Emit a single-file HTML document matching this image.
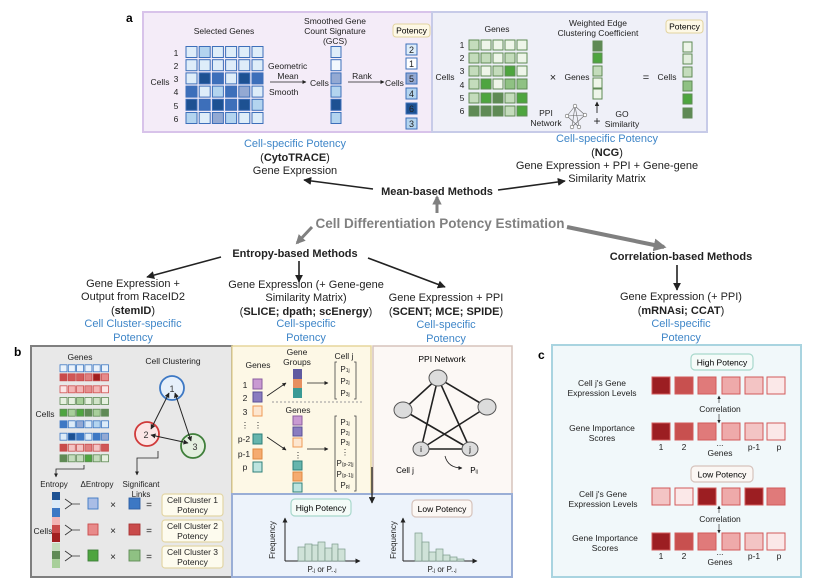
<!DOCTYPE html>
<html><head><meta charset="utf-8"><style>
html,body{margin:0;padding:0;background:#fff}
svg{display:block}
text{font-family:"Liberation Sans",sans-serif}
</style></head><body>
<svg width="831" height="588" viewBox="0 0 831 588" xmlns="http://www.w3.org/2000/svg">
<defs>
<marker id="ab" viewBox="0 0 10 10" refX="9" refY="5" markerWidth="5" markerHeight="5" orient="auto-start-reverse"><path d="M0,0L10,5L0,10z" fill="#222"/></marker>
<marker id="ag" viewBox="0 0 10 10" refX="8" refY="5" markerWidth="3.2" markerHeight="3.2" orient="auto"><path d="M0,0L10,5L0,10z" fill="#808080"/></marker>
</defs>

<!-- ===== panel a ===== -->
<text x="126" y="22" font-size="12" font-weight="bold">a</text>
<rect x="143" y="12" width="289" height="120" fill="#f4ecf8" stroke="#d8c3ea" stroke-width="2"/>
<rect x="432" y="12" width="275" height="120" fill="#eff0f8" stroke="#c7cbe8" stroke-width="2"/>

<g font-size="8.5" fill="#222">
<text x="224" y="34" text-anchor="middle">Selected Genes</text>
<text x="335" y="24" text-anchor="middle">Smoothed Gene</text>
<text x="335" y="34" text-anchor="middle">Count Signature</text>
<text x="335" y="44" text-anchor="middle">(GCS)</text>
<text x="160" y="85" text-anchor="middle">Cells</text>
<g text-anchor="middle"><text x="176" y="56">1</text><text x="176" y="69">2</text><text x="176" y="82">3</text><text x="176" y="95">4</text><text x="176" y="109">5</text><text x="176" y="122">6</text></g>
<text x="268" y="69">Geometric</text>
<text x="288" y="79" text-anchor="middle">Mean</text>
<text x="269" y="95">Smooth</text>
<text x="310" y="86">Cells</text>
<text x="362" y="79" text-anchor="middle">Rank</text>
<text x="385" y="86">Cells</text>
</g>
<line x1="270" y1="82" x2="306" y2="82" stroke="#222" stroke-width="0.8" marker-end="url(#ab)"/>
<line x1="348" y1="82" x2="384" y2="82" stroke="#222" stroke-width="0.8" marker-end="url(#ab)"/>

<g stroke="#3d6fba" stroke-width="1">
<rect x="186" y="46.5" width="11" height="11" fill="#deedf9"/><rect x="199.2" y="46.5" width="11" height="11" fill="#b3d4ef"/><rect x="212.4" y="46.5" width="11" height="11" fill="#deedf9"/><rect x="225.6" y="46.5" width="11" height="11" fill="#deedf9"/><rect x="238.8" y="46.5" width="11" height="11" fill="#deedf9"/><rect x="252" y="46.5" width="11" height="11" fill="#deedf9"/>
<rect x="186" y="59.7" width="11" height="11" fill="#deedf9"/><rect x="199.2" y="59.7" width="11" height="11" fill="#deedf9"/><rect x="212.4" y="59.7" width="11" height="11" fill="#deedf9"/><rect x="225.6" y="59.7" width="11" height="11" fill="#deedf9"/><rect x="238.8" y="59.7" width="11" height="11" fill="#deedf9"/><rect x="252" y="59.7" width="11" height="11" fill="#deedf9"/>
<rect x="186" y="72.9" width="11" height="11" fill="#deedf9"/><rect x="199.2" y="72.9" width="11" height="11" fill="#1d5192"/><rect x="212.4" y="72.9" width="11" height="11" fill="#3d6fba"/><rect x="225.6" y="72.9" width="11" height="11" fill="#deedf9"/><rect x="238.8" y="72.9" width="11" height="11" fill="#1d5192"/><rect x="252" y="72.9" width="11" height="11" fill="#3d6fba"/>
<rect x="186" y="86.1" width="11" height="11" fill="#3d6fba"/><rect x="199.2" y="86.1" width="11" height="11" fill="#deedf9"/><rect x="212.4" y="86.1" width="11" height="11" fill="#b3d4ef"/><rect x="225.6" y="86.1" width="11" height="11" fill="#3d6fba"/><rect x="238.8" y="86.1" width="11" height="11" fill="#93a9d3"/><rect x="252" y="86.1" width="11" height="11" fill="#deedf9"/>
<rect x="186" y="99.3" width="11" height="11" fill="#1d5192"/><rect x="199.2" y="99.3" width="11" height="11" fill="#3d6fba"/><rect x="212.4" y="99.3" width="11" height="11" fill="#1d5192"/><rect x="225.6" y="99.3" width="11" height="11" fill="#3d6fba"/><rect x="238.8" y="99.3" width="11" height="11" fill="#1d5192"/><rect x="252" y="99.3" width="11" height="11" fill="#b3d4ef"/>
<rect x="186" y="112.5" width="11" height="11" fill="#b3d4ef"/><rect x="199.2" y="112.5" width="11" height="11" fill="#deedf9"/><rect x="212.4" y="112.5" width="11" height="11" fill="#93a9d3"/><rect x="225.6" y="112.5" width="11" height="11" fill="#b3d4ef"/><rect x="238.8" y="112.5" width="11" height="11" fill="#deedf9"/><rect x="252" y="112.5" width="11" height="11" fill="#deedf9"/>
<rect x="331" y="46.5" width="10" height="11" fill="#deedf9"/><rect x="331" y="59.7" width="10" height="11" fill="#f2f8fd"/><rect x="331" y="72.9" width="10" height="11" fill="#93a9d3"/><rect x="331" y="86.1" width="10" height="11" fill="#b3d4ef"/><rect x="331" y="99.3" width="10" height="11" fill="#1d5192"/><rect x="331" y="112.5" width="10" height="11" fill="#b3d4ef"/>
<rect x="406" y="44" width="11" height="11" fill="#deedf9"/><rect x="406" y="58" width="11" height="11" fill="#fff"/><rect x="406" y="73" width="11" height="11" fill="#93a9d3"/><rect x="406" y="88" width="11" height="11" fill="#b3d4ef"/><rect x="406" y="103" width="11" height="11" fill="#1d5192"/><rect x="406" y="118" width="11" height="11" fill="#b3d4ef"/>
</g>
<g font-size="9" text-anchor="middle" fill="#222"><text x="411.5" y="53">2</text><text x="411.5" y="67">1</text><text x="411.5" y="82">5</text><text x="411.5" y="97">4</text><text x="411.5" y="112">6</text><text x="411.5" y="127">3</text></g>
<rect x="393" y="24" width="37" height="13" rx="3" fill="#fdf8e6" stroke="#e2d3a0"/>
<text x="411.5" y="33.5" font-size="8.5" text-anchor="middle">Potency</text>

<g font-size="8.5" fill="#222">
<text x="497" y="32" text-anchor="middle">Genes</text>
<text x="598" y="26" text-anchor="middle">Weighted Edge</text>
<text x="598" y="36" text-anchor="middle">Clustering Coefficient</text>
<text x="445" y="80" text-anchor="middle">Cells</text>
<g text-anchor="middle"><text x="462" y="48">1</text><text x="462" y="61">2</text><text x="462" y="74">3</text><text x="462" y="88">4</text><text x="462" y="101">5</text><text x="462" y="114">6</text></g>
<text x="553" y="81" text-anchor="middle" font-size="11">×</text>
<text x="577" y="80" text-anchor="middle">Genes</text>
<text x="646" y="81" text-anchor="middle" font-size="11">=</text>
<text x="667" y="80" text-anchor="middle">Cells</text>
<text x="546" y="116" text-anchor="middle">PPI</text>
<text x="546" y="126" text-anchor="middle">Network</text>
<text x="622" y="117" text-anchor="middle">GO</text>
<text x="622" y="127" text-anchor="middle">Similarity</text>
<text x="597" y="125" text-anchor="middle" font-size="12">+</text>
</g>
<line x1="597" y1="113" x2="597" y2="102" stroke="#222" stroke-width="0.9" marker-end="url(#ab)"/>
<g stroke="#666" stroke-width="0.6" fill="#fff">
<line x1="575" y1="106" x2="567" y2="116"/><line x1="575" y1="106" x2="585" y2="115"/><line x1="567" y1="116" x2="579" y2="127"/><line x1="585" y1="115" x2="572" y2="127"/><line x1="575" y1="106" x2="572" y2="127"/><line x1="575" y1="106" x2="579" y2="127"/><line x1="567" y1="116" x2="585" y2="115"/>
<circle cx="575" cy="106" r="1.8"/><circle cx="567" cy="116" r="1.8"/><circle cx="585" cy="115" r="1.8"/><circle cx="572" cy="127" r="1.8"/><circle cx="579" cy="127" r="1.8"/>
</g>
<g stroke="#5f8a55" stroke-width="1">
<rect x="469" y="40" width="10" height="10" fill="#c4dcbc"/><rect x="481" y="40" width="10" height="10" fill="#eef5e9"/><rect x="493" y="40" width="10" height="10" fill="#eef5e9"/><rect x="505" y="40" width="10" height="10" fill="#eef5e9"/><rect x="517" y="40" width="10" height="10" fill="#eef5e9"/>
<rect x="469" y="53" width="10" height="10" fill="#c4dcbc"/><rect x="481" y="53" width="10" height="10" fill="#c4dcbc"/><rect x="493" y="53" width="10" height="10" fill="#eef5e9"/><rect x="505" y="53" width="10" height="10" fill="#c4dcbc"/><rect x="517" y="53" width="10" height="10" fill="#eef5e9"/>
<rect x="469" y="66" width="10" height="10" fill="#c4dcbc"/><rect x="481" y="66" width="10" height="10" fill="#eef5e9"/><rect x="493" y="66" width="10" height="10" fill="#c4dcbc"/><rect x="505" y="66" width="10" height="10" fill="#4ea53f"/><rect x="517" y="66" width="10" height="10" fill="#eef5e9"/>
<rect x="469" y="79" width="10" height="10" fill="#c4dcbc"/><rect x="481" y="79" width="10" height="10" fill="#4ea53f"/><rect x="493" y="79" width="10" height="10" fill="#eef5e9"/><rect x="505" y="79" width="10" height="10" fill="#8fc183"/><rect x="517" y="79" width="10" height="10" fill="#8fc183"/>
<rect x="469" y="93" width="10" height="10" fill="#c4dcbc"/><rect x="481" y="93" width="10" height="10" fill="#4ea53f"/><rect x="493" y="93" width="10" height="10" fill="#5f8a55"/><rect x="505" y="93" width="10" height="10" fill="#c4dcbc"/><rect x="517" y="93" width="10" height="10" fill="#4ea53f"/>
<rect x="469" y="106" width="10" height="10" fill="#5f8a55"/><rect x="481" y="106" width="10" height="10" fill="#5f8a55"/><rect x="493" y="106" width="10" height="10" fill="#5f8a55"/><rect x="505" y="106" width="10" height="10" fill="#c4dcbc"/><rect x="517" y="106" width="10" height="10" fill="#4ea53f"/>
<rect x="593" y="41" width="9" height="10" fill="#5f8a55"/><rect x="593" y="53" width="9" height="10" fill="#4ea53f"/><rect x="593" y="66" width="9" height="10" fill="#c4dcbc"/><rect x="593" y="78" width="9" height="10" fill="#eef5e9"/><rect x="593" y="89" width="9" height="10" fill="#eef5e9"/>
<rect x="683" y="42" width="9" height="10" fill="#eef5e9"/><rect x="683" y="54" width="9" height="10" fill="#e2eedd"/><rect x="683" y="67" width="9" height="10" fill="#c4dcbc"/><rect x="683" y="81" width="9" height="10" fill="#8fc183"/><rect x="683" y="94" width="9" height="10" fill="#4ea53f"/><rect x="683" y="108" width="9" height="10" fill="#5f8a55"/>
</g>
<rect x="666" y="20" width="37" height="13" rx="3" fill="#fdf8e6" stroke="#e2d3a0"/>
<text x="684.5" y="29.5" font-size="8.5" text-anchor="middle">Potency</text>

<!-- ===== middle tree ===== -->
<g font-size="11" text-anchor="middle" fill="#222">
<text x="295" y="147" fill="#3f86c8">Cell-specific Potency</text>
<text x="295" y="161">(<tspan font-weight="bold">CytoTRACE</tspan>)</text>
<text x="295" y="174">Gene Expression</text>
<text x="607" y="142" fill="#3f86c8">Cell-specific Potency</text>
<text x="607" y="156">(<tspan font-weight="bold">NCG</tspan>)</text>
<text x="607" y="169">Gene Expression + PPI + Gene-gene</text>
<text x="607" y="182">Similarity Matrix</text>
<text x="437" y="195" font-weight="bold">Mean-based Methods</text>
<text x="440" y="228" font-size="13.5" font-weight="bold" fill="#808080">Cell Differentiation Potency Estimation</text>
<text x="295" y="257" font-weight="bold">Entropy-based Methods</text>
<text x="681" y="260" font-weight="bold">Correlation-based Methods</text>

<text x="133" y="287">Gene Expression +</text>
<text x="133" y="300">Output from RaceID2</text>
<text x="133" y="314">(<tspan font-weight="bold">stemID</tspan>)</text>
<text x="133" y="327" fill="#3f86c8">Cell Cluster-specific</text>
<text x="133" y="341" fill="#3f86c8">Potency</text>

<text x="306" y="288">Gene Expression (+ Gene-gene</text>
<text x="306" y="301">Similarity Matrix)</text>
<text x="306" y="315">(<tspan font-weight="bold">SLICE; dpath; scEnergy</tspan>)</text>
<text x="306" y="327" fill="#3f86c8">Cell-specific</text>
<text x="306" y="341" fill="#3f86c8">Potency</text>

<text x="446" y="301">Gene Expression + PPI</text>
<text x="446" y="315">(<tspan font-weight="bold">SCENT; MCE; SPIDE</tspan>)</text>
<text x="446" y="328" fill="#3f86c8">Cell-specific</text>
<text x="446" y="342" fill="#3f86c8">Potency</text>

<text x="681" y="300">Gene Expression (+ PPI)</text>
<text x="681" y="314">(<tspan font-weight="bold">mRNAsi; CCAT</tspan>)</text>
<text x="681" y="327" fill="#3f86c8">Cell-specific</text>
<text x="681" y="341" fill="#3f86c8">Potency</text>
</g>
<g stroke="#222" stroke-width="1.6" fill="none" marker-end="url(#ab)">
<line x1="373" y1="189" x2="304" y2="180"/>
<line x1="498" y1="190" x2="565" y2="181"/>
<line x1="221" y1="257" x2="147" y2="277"/>
<line x1="299" y1="261" x2="299" y2="282"/>
<line x1="368" y1="258" x2="445" y2="287"/>
<line x1="677" y1="265" x2="677" y2="290"/>
</g>
<g stroke="#808080" fill="none">
<line x1="437" y1="213" x2="437" y2="197" stroke-width="3" marker-end="url(#ag)"/>
<line x1="312" y1="227" x2="297" y2="243" stroke-width="3" marker-end="url(#ag)"/>
<line x1="567" y1="227" x2="664" y2="247" stroke-width="4" marker-end="url(#ag)"/>
</g>

<!-- ===== panel b ===== -->
<text x="14" y="356" font-size="12" font-weight="bold">b</text>
<rect x="31" y="346" width="201" height="231" fill="#e8e8e8" stroke="#7f7f7f" stroke-width="2"/>
<g font-size="8.5" fill="#222" text-anchor="middle">
<text x="80" y="360">Genes</text>
<text x="173" y="364">Cell Clustering</text>
<text x="45" y="417">Cells</text>
<text x="54" y="487" font-size="8">Entropy</text>
<text x="97" y="487" font-size="8">ΔEntropy</text>
<text x="141" y="487" font-size="8">Significant</text>
<text x="141" y="497" font-size="8">Links</text>
<text x="43" y="534">Cells</text>
<text x="113" y="508" font-size="10">×</text><text x="113" y="534" font-size="10">×</text><text x="113" y="560" font-size="10">×</text>
<text x="149" y="508" font-size="10">=</text><text x="149" y="534" font-size="10">=</text><text x="149" y="560" font-size="10">=</text>
</g>
<g stroke-width="0.8">
<g stroke="#3d78c4"><rect x="60" y="364.8" width="7" height="7" fill="#eaf2fb"/><rect x="68.3" y="364.8" width="7" height="7" fill="#eaf2fb"/><rect x="76.6" y="364.8" width="7" height="7" fill="#eaf2fb"/><rect x="84.9" y="364.8" width="7" height="7" fill="#eaf2fb"/><rect x="93.2" y="364.8" width="7" height="7" fill="#eaf2fb"/><rect x="101.5" y="364.8" width="7" height="7" fill="#eaf2fb"/></g>
<g stroke="#c94b4b"><rect x="60" y="373.8" width="7" height="7" fill="#c94b4b"/><rect x="68.3" y="373.8" width="7" height="7" fill="#d05757"/><rect x="76.6" y="373.8" width="7" height="7" fill="#d35c5c"/><rect x="84.9" y="373.8" width="7" height="7" fill="#e08080"/><rect x="93.2" y="373.8" width="7" height="7" fill="#a11f1f"/><rect x="101.5" y="373.8" width="7" height="7" fill="#e68a8a"/></g>
<g stroke="#d05050"><rect x="60" y="385.8" width="7" height="7" fill="#fbe5e5"/><rect x="68.3" y="385.8" width="7" height="7" fill="#f3b5b5"/><rect x="76.6" y="385.8" width="7" height="7" fill="#f3b5b5"/><rect x="84.9" y="385.8" width="7" height="7" fill="#e69090"/><rect x="93.2" y="385.8" width="7" height="7" fill="#f3b5b5"/><rect x="101.5" y="385.8" width="7" height="7" fill="#fbe5e5"/></g>
<g stroke="#5f8a55"><rect x="60" y="397.5" width="7" height="7" fill="#e6f0e0"/><rect x="68.3" y="397.5" width="7" height="7" fill="#e6f0e0"/><rect x="76.6" y="397.5" width="7" height="7" fill="#a8cf9a"/><rect x="84.9" y="397.5" width="7" height="7" fill="#e6f0e0"/><rect x="93.2" y="397.5" width="7" height="7" fill="#d0e3c8"/><rect x="101.5" y="397.5" width="7" height="7" fill="#e6f0e0"/></g>
<g stroke="#5f8a55"><rect x="60" y="409.2" width="7" height="7" fill="#4ea53f"/><rect x="68.3" y="409.2" width="7" height="7" fill="#a8cf9a"/><rect x="76.6" y="409.2" width="7" height="7" fill="#4ea53f"/><rect x="84.9" y="409.2" width="7" height="7" fill="#5f8a55"/><rect x="93.2" y="409.2" width="7" height="7" fill="#a8cf9a"/><rect x="101.5" y="409.2" width="7" height="7" fill="#5f8a55"/></g>
<g stroke="#3d78c4"><rect x="60" y="420.8" width="7" height="7" fill="#3d78c4"/><rect x="68.3" y="420.8" width="7" height="7" fill="#dcebf8"/><rect x="76.6" y="420.8" width="7" height="7" fill="#93a9d3"/><rect x="84.9" y="420.8" width="7" height="7" fill="#dcebf8"/><rect x="93.2" y="420.8" width="7" height="7" fill="#b3d4ef"/><rect x="101.5" y="420.8" width="7" height="7" fill="#dcebf8"/></g>
<g stroke="#3d78c4"><rect x="60" y="433.2" width="7" height="7" fill="#dcebf8"/><rect x="68.3" y="433.2" width="7" height="7" fill="#1d5192"/><rect x="76.6" y="433.2" width="7" height="7" fill="#3d78c4"/><rect x="84.9" y="433.2" width="7" height="7" fill="#dcebf8"/><rect x="93.2" y="433.2" width="7" height="7" fill="#3d78c4"/><rect x="101.5" y="433.2" width="7" height="7" fill="#93a9d3"/></g>
<g stroke="#c94b4b"><rect x="60" y="444.2" width="7" height="7" fill="#c94b4b"/><rect x="68.3" y="444.2" width="7" height="7" fill="#f3c4c4"/><rect x="76.6" y="444.2" width="7" height="7" fill="#f3c4c4"/><rect x="84.9" y="444.2" width="7" height="7" fill="#e08080"/><rect x="93.2" y="444.2" width="7" height="7" fill="#f3c4c4"/><rect x="101.5" y="444.2" width="7" height="7" fill="#d05757"/></g>
<g stroke="#5f8a55"><rect x="60" y="454.8" width="7" height="7" fill="#5f8a55"/><rect x="68.3" y="454.8" width="7" height="7" fill="#c4dcbc"/><rect x="76.6" y="454.8" width="7" height="7" fill="#c4dcbc"/><rect x="84.9" y="454.8" width="7" height="7" fill="#4ea53f"/><rect x="93.2" y="454.8" width="7" height="7" fill="#c4dcbc"/><rect x="101.5" y="454.8" width="7" height="7" fill="#e6f0e0"/></g>
</g>
<g stroke-width="1.8">
<circle cx="172" cy="388" r="12" fill="#e6effa" stroke="#3d78c4"/>
<circle cx="147" cy="434" r="12" fill="#fbe6e6" stroke="#d03a3a"/>
<circle cx="193" cy="446" r="12" fill="#e3efdf" stroke="#3f7f3a"/>
</g>
<g font-size="9" text-anchor="middle" fill="#333"><text x="172" y="392">1</text><text x="146" y="438">2</text><text x="195" y="450">3</text></g>
<g stroke="#222" stroke-width="1" marker-end="url(#ab)" marker-start="url(#ab)">
<line x1="169" y1="393" x2="151" y2="429"/>
<line x1="175" y1="393" x2="191" y2="441"/>
<line x1="151" y1="435" x2="188" y2="443"/>
</g>
<g stroke="#222" stroke-width="0.8" fill="none" marker-end="url(#ab)">
<path d="M84,465 V469 H56 V477"/>
<path d="M158,451 V458 H137 V475"/>
</g>
<g stroke="none">
<rect x="52" y="492" width="8" height="8" fill="#1d5192"/><rect x="52" y="500" width="8" height="8" fill="#dcebf8"/><rect x="52" y="508" width="8" height="9" fill="#3d78c4"/>
<rect x="52" y="517" width="8" height="8" fill="#f3b5b5"/><rect x="52" y="525" width="8" height="8" fill="#c94b4b"/><rect x="52" y="533" width="8" height="9" fill="#a11f1f"/>
<rect x="52" y="543" width="8" height="8" fill="#c4dcbc"/><rect x="52" y="551" width="8" height="8" fill="#5f8a55"/><rect x="52" y="559" width="8" height="9" fill="#a8cf9a"/>
</g>
<g stroke="#333" stroke-width="0.8" fill="none">
<path d="M65,499 L72,504 L65,509 M72,504 H80"/>
<path d="M65,525 L72,530 L65,535 M72,530 H80"/>
<path d="M65,551 L72,556 L65,561 M72,556 H80"/>
</g>
<g stroke-width="0.9">
<rect x="88" y="498" width="10" height="11" fill="#a9bde6" stroke="#3d78c4"/>
<rect x="88" y="524" width="10" height="11" fill="#e88a8a" stroke="#c94b4b"/>
<rect x="88" y="550" width="10" height="11" fill="#4ea53f" stroke="#3f7f3a"/>
<rect x="129" y="498" width="11" height="11" fill="#3d78c4" stroke="#2d5fa4"/>
<rect x="129" y="524" width="11" height="11" fill="#c94b4b" stroke="#a83535"/>
<rect x="129" y="550" width="11" height="11" fill="#8fc183" stroke="#5f8a55"/>
</g>
<g fill="#fdfbee" stroke="#e3d6a6" stroke-width="1.2">
<rect x="162" y="494" width="61" height="22" rx="3"/>
<rect x="162" y="520" width="61" height="22" rx="3"/>
<rect x="162" y="546" width="61" height="22" rx="3"/>
</g>
<g font-size="8.5" text-anchor="middle" fill="#222">
<text x="192.5" y="503">Cell Cluster 1</text><text x="192.5" y="513">Potency</text>
<text x="192.5" y="529">Cell Cluster 2</text><text x="192.5" y="539">Potency</text>
<text x="192.5" y="555">Cell Cluster 3</text><text x="192.5" y="565">Potency</text>
</g>

<rect x="232" y="346" width="139" height="148" fill="#fdf8e6" stroke="#e6d69c" stroke-width="1.5"/>
<g font-size="8.5" text-anchor="middle" fill="#222">
<text x="258" y="368">Genes</text>
<text x="297" y="355">Gene</text><text x="297" y="365">Groups</text>
<text x="344" y="359">Cell j</text>
<text x="298" y="413">Genes</text>
<text x="245" y="388">1</text><text x="245" y="401">2</text><text x="245" y="415">3</text><text x="245" y="428">⋮</text><text x="244" y="442">p-2</text><text x="244" y="457">p-1</text><text x="245" y="470">p</text>
<text x="258" y="428">⋮</text><text x="298" y="458">⋮</text>
</g>
<g stroke-width="1">
<rect x="253" y="379" width="9" height="10" fill="#c99ad2" stroke="#8a5ea0"/>
<rect x="253" y="392" width="9" height="10" fill="#8a7cc0" stroke="#5a4f96"/>
<rect x="253" y="406" width="9" height="10" fill="#fde6cf" stroke="#ef9a55"/>
<rect x="253" y="434" width="9" height="10" fill="#66b5ad" stroke="#2f8079"/>
<rect x="253" y="449" width="9" height="10" fill="#f5ab70" stroke="#e08840"/>
<rect x="253" y="462" width="9" height="10" fill="#bce4df" stroke="#2f8079"/>
<rect x="293" y="369" width="9" height="10" fill="#5f5aa0" stroke="none"/>
<rect x="293" y="379" width="9" height="9" fill="#e69060" stroke="none"/>
<rect x="293" y="388" width="9" height="10" fill="#3a9a95" stroke="none"/>
<rect x="293" y="416" width="9" height="9" fill="#c99ad2" stroke="#8a5ea0"/>
<rect x="293" y="427" width="9" height="9" fill="#8a7cc0" stroke="#5a4f96"/>
<rect x="293" y="438" width="9" height="9" fill="#fde6cf" stroke="#ef9a55"/>
<rect x="293" y="461" width="9" height="9" fill="#66b5ad" stroke="#2f8079"/>
<rect x="293" y="472" width="9" height="9" fill="#f5ab70" stroke="#e08840"/>
<rect x="293" y="483" width="9" height="9" fill="#bce4df" stroke="#2f8079"/>
</g>
<g stroke="#222" stroke-width="0.8" marker-end="url(#ab)">
<line x1="267" y1="396" x2="286" y2="383"/>
<line x1="267" y1="437" x2="286" y2="450"/>
<line x1="307" y1="383" x2="328" y2="383"/>
<line x1="307" y1="449" x2="328" y2="449"/>
</g>
<line x1="272" y1="402" x2="362" y2="402" stroke="#999" stroke-dasharray="2,2"/>
<g stroke="#444" stroke-width="0.8" fill="none">
<path d="M337,362 h-2 v37 h2 M354,362 h2 v37 h-2"/>
<path d="M337,416 h-2 v75 h2 M354,416 h2 v75 h-2"/>
</g>
<g font-size="8" text-anchor="middle" fill="#222">
<text x="345" y="372">P<tspan font-size="5">1j</tspan></text><text x="345" y="384">P<tspan font-size="5">2j</tspan></text><text x="345" y="396">P<tspan font-size="5">3j</tspan></text>
<text x="345" y="425">P<tspan font-size="5">1j</tspan></text><text x="345" y="435">P<tspan font-size="5">2j</tspan></text><text x="345" y="445">P<tspan font-size="5">3j</tspan></text><text x="345" y="455">⋮</text><text x="345" y="466">P<tspan font-size="5">(p-2)j</tspan></text><text x="345" y="477">P<tspan font-size="5">(p-1)j</tspan></text><text x="345" y="488">P<tspan font-size="5">pj</tspan></text>
</g>

<rect x="373" y="346" width="139" height="148" fill="#fcf8f5" stroke="#d6c3bc" stroke-width="1.5"/>
<text x="442" y="362" font-size="8.5" text-anchor="middle">PPI Network</text>
<g stroke="#222" stroke-width="1.6">
<line x1="438" y1="378" x2="403" y2="410"/><line x1="438" y1="378" x2="487" y2="407"/><line x1="438" y1="378" x2="421" y2="449"/><line x1="438" y1="378" x2="470" y2="449"/><line x1="403" y1="410" x2="470" y2="449"/><line x1="487" y1="407" x2="421" y2="449"/><line x1="421" y1="449" x2="470" y2="449"/>
</g>
<g fill="#dcdcdc" stroke="#555" stroke-width="1">
<ellipse cx="438" cy="378" rx="9" ry="8"/><ellipse cx="403" cy="410" rx="9" ry="8"/><ellipse cx="487" cy="407" rx="9" ry="8"/><ellipse cx="421" cy="449" rx="8" ry="7"/><ellipse cx="470" cy="449" rx="8" ry="7"/>
</g>
<g font-size="8" text-anchor="middle"><text x="421" y="452">i</text><text x="470" y="452">j</text>
<text x="405" y="473">Cell j</text><text x="474" y="473">P<tspan font-size="5">ij</tspan></text></g>
<path d="M445,456 Q448,468 462,468" stroke="#222" stroke-width="0.8" fill="none" marker-end="url(#ab)"/>

<rect x="232" y="494" width="280" height="83" fill="#edf3fb" stroke="#9aaed6" stroke-width="2"/>
<line x1="372" y1="467" x2="372" y2="503" stroke="#222" stroke-width="1.3" marker-end="url(#ab)"/>
<rect x="291" y="499" width="60" height="17" rx="4" fill="#f4fbf8" stroke="#a8d8cc" stroke-width="1.2"/>
<text x="321" y="511" font-size="8.5" text-anchor="middle">High Potency</text>
<rect x="412" y="500" width="60" height="17" rx="4" fill="#fbf7f4" stroke="#d6c3bc" stroke-width="1.2"/>
<text x="442" y="512" font-size="8.5" text-anchor="middle">Low Potency</text>
<g stroke="#222" stroke-width="1" fill="none" marker-end="url(#ab)">
<path d="M285,561 V518"/><path d="M285,561 H360"/>
<path d="M403,561 V518"/><path d="M403,561 H477"/>
</g>
<g fill="#cfe2d8" stroke="#7a9a8a" stroke-width="0.7">
<rect x="298" y="547" width="7" height="14"/><rect x="305" y="544" width="7" height="17"/><rect x="312" y="545" width="6" height="16"/><rect x="318" y="542" width="7" height="19"/><rect x="325" y="548" width="7" height="13"/><rect x="332" y="544" width="6" height="17"/><rect x="338" y="549" width="7" height="12"/>
<rect x="415" y="533" width="7" height="28"/><rect x="422" y="542" width="7" height="19"/><rect x="429" y="552" width="7" height="9"/><rect x="436" y="549" width="7" height="12"/><rect x="443" y="555" width="7" height="6"/><rect x="450" y="557" width="7" height="4"/><rect x="457" y="559" width="7" height="2"/>
</g>
<g font-size="8" text-anchor="middle" fill="#222">
<text transform="translate(275,540) rotate(-90)">Frequency</text>
<text transform="translate(396,540) rotate(-90)">Frequency</text>
<text x="322" y="572">P.<tspan font-size="5">j</tspan> or P..<tspan font-size="5">j</tspan></text>
<text x="442" y="572">P.<tspan font-size="5">j</tspan> or P..<tspan font-size="5">j</tspan></text>
</g>

<!-- ===== panel c ===== -->
<text x="538" y="359" font-size="12" font-weight="bold">c</text>
<rect x="552" y="345" width="249" height="232" fill="#f1f8fa" stroke="#a9d4e0" stroke-width="2"/>
<rect x="691" y="354" width="62" height="16" rx="4" fill="#f5fbf9" stroke="#a8d8cc" stroke-width="1.2"/>
<text x="722" y="365.5" font-size="8.5" text-anchor="middle">High Potency</text>
<rect x="691" y="466" width="62" height="16" rx="4" fill="#fbf7f4" stroke="#d6c3bc" stroke-width="1.2"/>
<text x="722" y="477.5" font-size="8.5" text-anchor="middle">Low Potency</text>
<g font-size="8.5" text-anchor="middle" fill="#222">
<text x="602" y="386">Cell j's Gene</text><text x="602" y="396">Expression Levels</text>
<text x="602" y="431">Gene Importance</text><text x="602" y="441">Scores</text>
<text x="720" y="412">Correlation</text>
<text x="603" y="497">Cell j's Gene</text><text x="603" y="507">Expression Levels</text>
<text x="605" y="541">Gene Importance</text><text x="605" y="551">Scores</text>
<text x="720" y="522">Correlation</text>
<text x="661" y="450">1</text><text x="684" y="450">2</text><text x="720" y="446">...</text><text x="754" y="450">p-1</text><text x="779" y="450">p</text><text x="720" y="456">Genes</text>
<text x="661" y="559">1</text><text x="684" y="559">2</text><text x="720" y="555">...</text><text x="754" y="559">p-1</text><text x="779" y="559">p</text><text x="720" y="565">Genes</text>
</g>
<g stroke="#d25a5a" stroke-width="1">
<rect x="652" y="377" width="18" height="17" fill="#9c1e22"/><rect x="675" y="377" width="18" height="17" fill="#c8504f"/><rect x="698" y="377" width="18" height="17" fill="#e07a7a"/><rect x="722" y="377" width="18" height="17" fill="#eeaaaa"/><rect x="745" y="377" width="18" height="17" fill="#f3c4c4"/><rect x="767" y="377" width="18" height="17" fill="#fbe8e8"/>
<rect x="652" y="423" width="18" height="17" fill="#9c1e22"/><rect x="675" y="423" width="18" height="17" fill="#c8504f"/><rect x="698" y="423" width="18" height="17" fill="#e07a7a"/><rect x="722" y="423" width="18" height="17" fill="#eeaaaa"/><rect x="745" y="423" width="18" height="17" fill="#f3c4c4"/><rect x="767" y="423" width="18" height="17" fill="#fbe8e8"/>
<rect x="652" y="488" width="18" height="17" fill="#f3c4c4"/><rect x="675" y="488" width="18" height="17" fill="#fbe8e8"/><rect x="698" y="488" width="18" height="17" fill="#9c1e22"/><rect x="722" y="488" width="18" height="17" fill="#eeaaaa"/><rect x="745" y="488" width="18" height="17" fill="#9c1e22"/><rect x="767" y="488" width="18" height="17" fill="#e07a7a"/>
<rect x="652" y="533" width="18" height="17" fill="#9c1e22"/><rect x="675" y="533" width="18" height="17" fill="#c8504f"/><rect x="698" y="533" width="18" height="17" fill="#e07a7a"/><rect x="722" y="533" width="18" height="17" fill="#eeaaaa"/><rect x="745" y="533" width="18" height="17" fill="#f3c4c4"/><rect x="767" y="533" width="18" height="17" fill="#fbe8e8"/>
</g>
<g stroke="#333" stroke-width="0.7" marker-end="url(#ab)">
<line x1="719" y1="403" x2="719" y2="396"/><line x1="719" y1="414" x2="719" y2="423"/>
<line x1="719" y1="513" x2="719" y2="506"/><line x1="719" y1="524" x2="719" y2="533"/>
</g>
</svg>
</body></html>
